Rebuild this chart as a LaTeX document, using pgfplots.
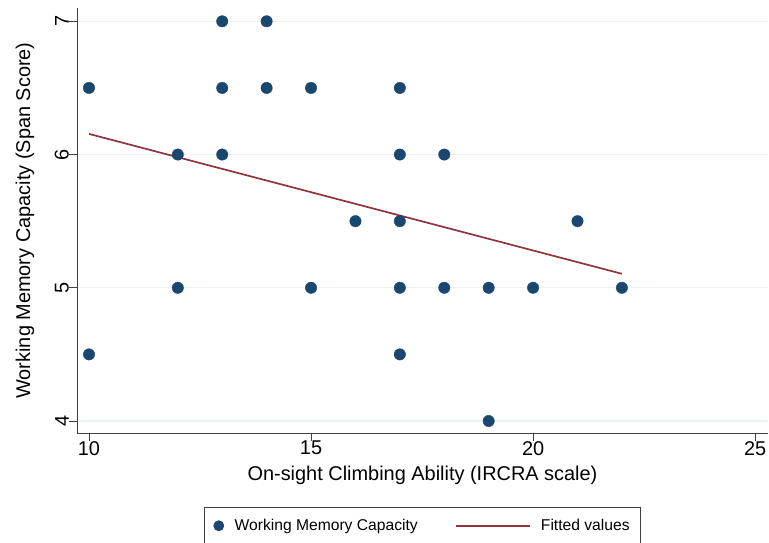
\documentclass[border=0pt]{standalone}
\usepackage{fontspec}
\setmainfont{Liberation Sans}
\usepackage{pgfplots}
\pgfplotsset{compat=1.18}
\definecolor{statablue}{HTML}{1A476F}
\definecolor{statared}{HTML}{90353B}
\definecolor{gridc}{HTML}{EAF2F3}
\begin{document}
\begin{tikzpicture}
\begin{axis}[name=ax, at={(0,0)}, anchor=south west,
  scale only axis, width=691bp, height=425bp,
  xmin=9.73, xmax=25.29, ymin=3.91, ymax=7.1,
  axis lines*=left,
  xtick={10,15,20,25}, ytick={4,5,6,7},
  ymajorgrids, major grid style={gridc, line width=1.3bp},
  tick align=outside, major tick length=8bp,
  tick style={black!75, line width=0.8bp},
  axis line style={black!75, line width=0.9bp},
  ticklabel style={font=\fontsize{20}{24}\selectfont},
  yticklabel style={rotate=90, anchor=south, inner sep=0pt},
  xticklabel style={inner sep=0pt},
  /pgf/number format/assume math mode=true,
  xlabel={On-sight Climbing Ability (IRCRA scale)},
  ylabel={Working Memory Capacity (Span Score)},
  label style={font=\fontsize{20}{24}\selectfont},
  xlabel style={at={(axis description cs:0.5,-0.1106)}, anchor=base},
  ylabel style={at={(axis description cs:-0.068,0.5)}, anchor=base, rotate=0},
  legend columns=2,
  legend style={at={(axis description cs:0.5,-0.174)}, anchor=north,
    draw=black!75, line width=0.8bp,
    font=\fontsize{15.7}{18}\selectfont,
    inner xsep=9bp, inner ysep=10bp,
    /tikz/every odd column/.append style={column sep=8.5bp},
    /tikz/every even column/.append style={column sep=35bp}},
  legend cell align=left,
]
\addplot[only marks, mark=*, mark size=5.7bp, color=statablue,
  legend image code/.code={\fill[statablue] (0bp,0bp) circle (5bp);}]
coordinates {
(10,6.5) (10,4.5)
(12,6) (12,5)
(13,7) (13,6.5) (13,6)
(14,7) (14,6.5)
(15,6.5) (15,5)
(16,5.5)
(17,6.5) (17,6) (17,5.5) (17,5) (17,4.5)
(18,6) (18,5)
(19,5) (19,4)
(20,5)
(21,5.5)
(22,5)
};
\addlegendentry{Working Memory Capacity}
\addplot[color=statared, line width=1.7bp,
  legend image code/.code={\draw[statared, line width=1.7bp] (0bp,0bp) -- (74bp,0bp);}]
coordinates {(10,6.155) (22,5.105)};
\addlegendentry{Fitted values}
\end{axis}
\pgfresetboundingbox
\path[use as bounding box] ([shift={(-77bp,-110bp)}]ax.south west) rectangle ([shift={(692bp,433bp)}]ax.south west);
\end{tikzpicture}
\end{document}
